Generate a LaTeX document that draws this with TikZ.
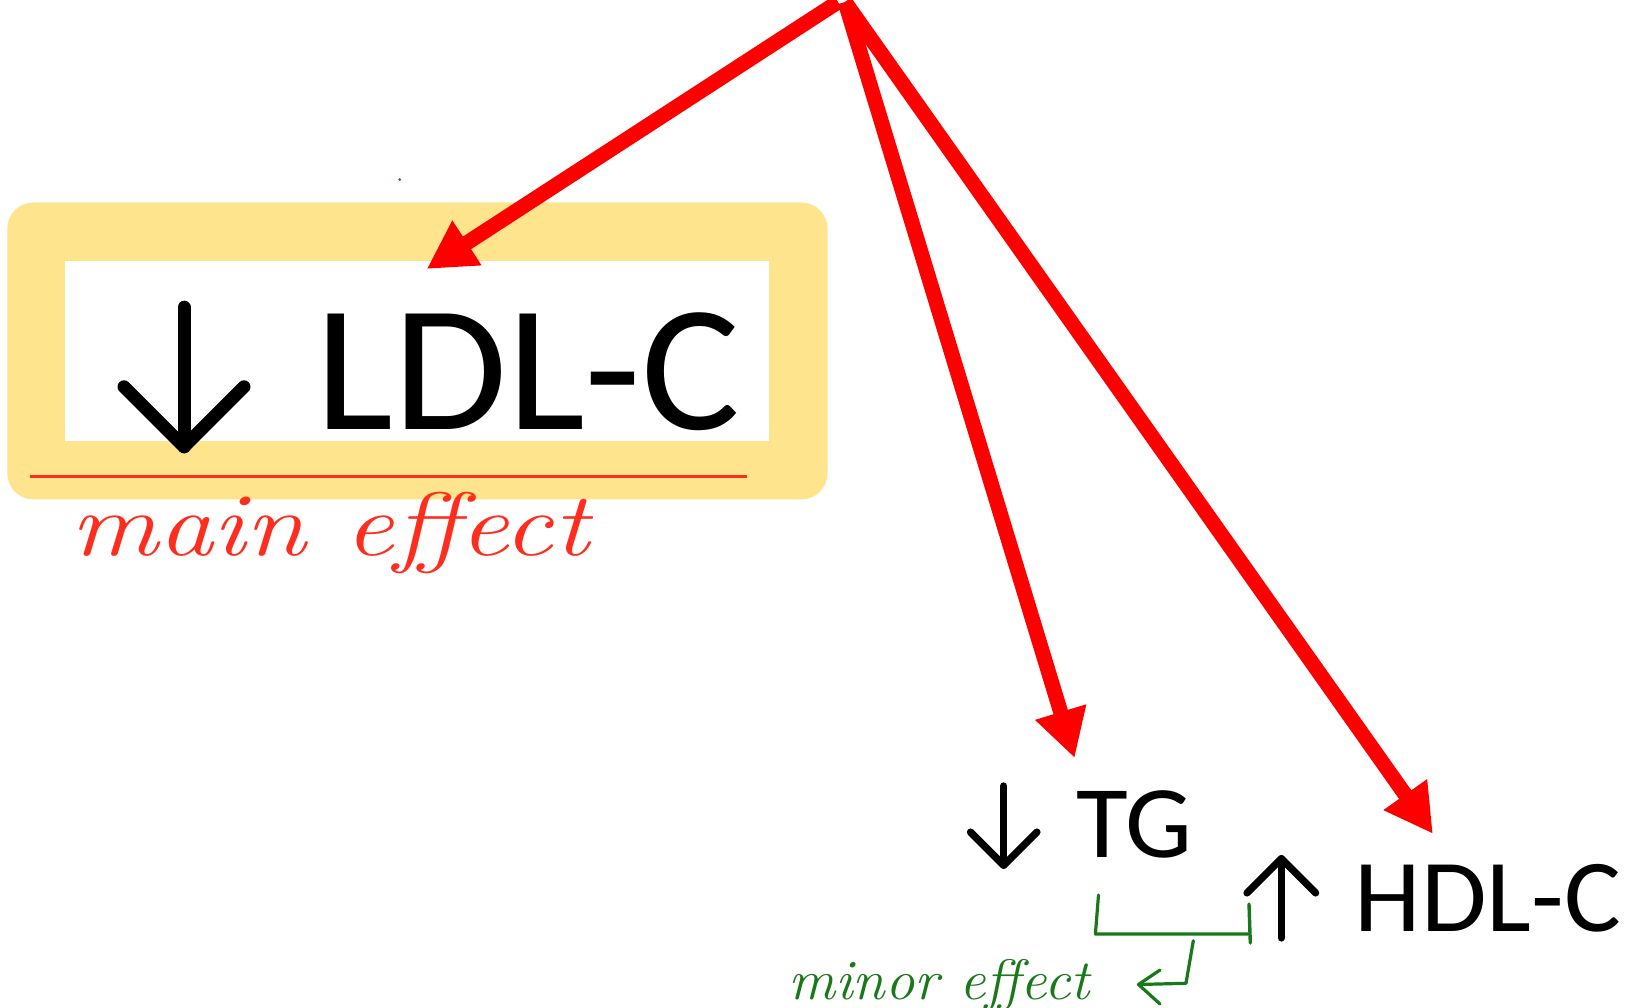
\documentclass[tikz,border=0pt]{standalone}
\usepackage{fontspec}
\setmainfont{Carlito}
\usetikzlibrary{arrows.meta}
\definecolor{boxyellow}{RGB}{254,228,140}
\definecolor{notered}{RGB}{255,45,30}
\definecolor{notegreen}{RGB}{25,120,25}
\definecolor{effectred}{RGB}{255,0,0}
\newcommand\handfont{\fontfamily{lmr}\fontshape{it}\selectfont}
\tikzset{
  lipid/.style={anchor=base west, inner sep=0pt, text=black},
  effectarrow/.style={draw=effectred, line width=15pt,
    -{Triangle[length=48pt,width=50pt]}},
  bigarrow/.style={draw=black, line width=13pt, line cap=round, line join=round},
  smallarrow/.style={draw=black, line width=7.3pt, line cap=round, line join=round},
  handnote/.style={anchor=base west, inner sep=0pt},
  greenmark/.style={draw=notegreen, line width=3.2pt, line cap=round, line join=round}
}
\begin{document}
\begin{tikzpicture}[x=1pt,y=-1pt]
\useasboundingbox (0,0) rectangle (1628,1008);

% highlighted LDL-C panel
\fill[boxyellow, rounded corners=26pt] (7.3,202.5) rectangle (827.5,499.4);
\fill[white] (65.4,260.6) rectangle (769.4,441.3);
\draw[notered, line width=2.6pt] (30,476.2) -- (746.5,476.2);

% down arrow in front of LDL-C
\draw[bigarrow] (184,307.2) -- (184,446.8);
\draw[bigarrow] (124,386.8) -- (184,446.8) -- (244,386.8);
\node[lipid, font=\fontsize{180}{200}\selectfont] (ldl) at (315,429) {\scalebox{1.03}[1]{LDL-C}};

% TG with down arrow
\draw[smallarrow] (1003.7,786) -- (1003.7,865.3);
\draw[smallarrow] (970.5,832.1) -- (1003.7,865.3) -- (1036.9,832.1);
\node[lipid, font=\fontsize{103}{120}\selectfont] (tg) at (1076.7,857.6) {\scalebox{1.03}[1]{TG}};

% HDL-C with up arrow
\draw[smallarrow] (1281.3,858.6) -- (1281.3,938);
\draw[smallarrow] (1247,892.9) -- (1281.3,858.6) -- (1315.6,892.9);
\node[lipid, font=\fontsize{103.5}{120}\selectfont] (hdl) at (1354.5,931) {\scalebox{1.03}[1]{HDL-C}};

% red effect arrows from the common source
\coordinate (srcA) at (838,2);
\coordinate (srcB) at (845,2);
\coordinate (ldltip) at (426.7,269);
\coordinate (tgtip) at (1074.6,758);
\coordinate (hdltip) at (1432.9,833.8);
\draw[effectarrow] (srcA) -- (ldltip);
\draw[effectarrow] (srcB) -- (tgtip);
\draw[effectarrow] (srcB) -- (hdltip);

% handwritten notes
\node[handnote, text=notered, font=\handfont\fontsize{90}{96}\selectfont] (mainnote) at (70,555) {\scalebox{1.22}[1]{main effect}};
\node[handnote, text=notegreen, font=\handfont\fontsize{57}{62}\selectfont] (minornote) at (788,999) {\scalebox{1.03}[1]{minor effect}};

% green bracket linking TG and HDL-C
\draw[greenmark] (1098.5,895) -- (1095.4,934) -- (1248,934);
\draw[greenmark, line width=3.4pt] (1249,904) -- (1250.3,943);
\coordinate (hookstart) at (1193.3,940.7);
\coordinate (hookbend) at (1186,983.3);
\coordinate (hooktip) at (1138.5,984.5);
\draw[greenmark] (hookstart) -- (hookbend) -- (hooktip);
\draw[greenmark] (1160,970) -- (hooktip) -- (1160,1004);
\fill[notegreen] (399.7,179.6) circle (1.5pt);
\end{tikzpicture}
\end{document}
